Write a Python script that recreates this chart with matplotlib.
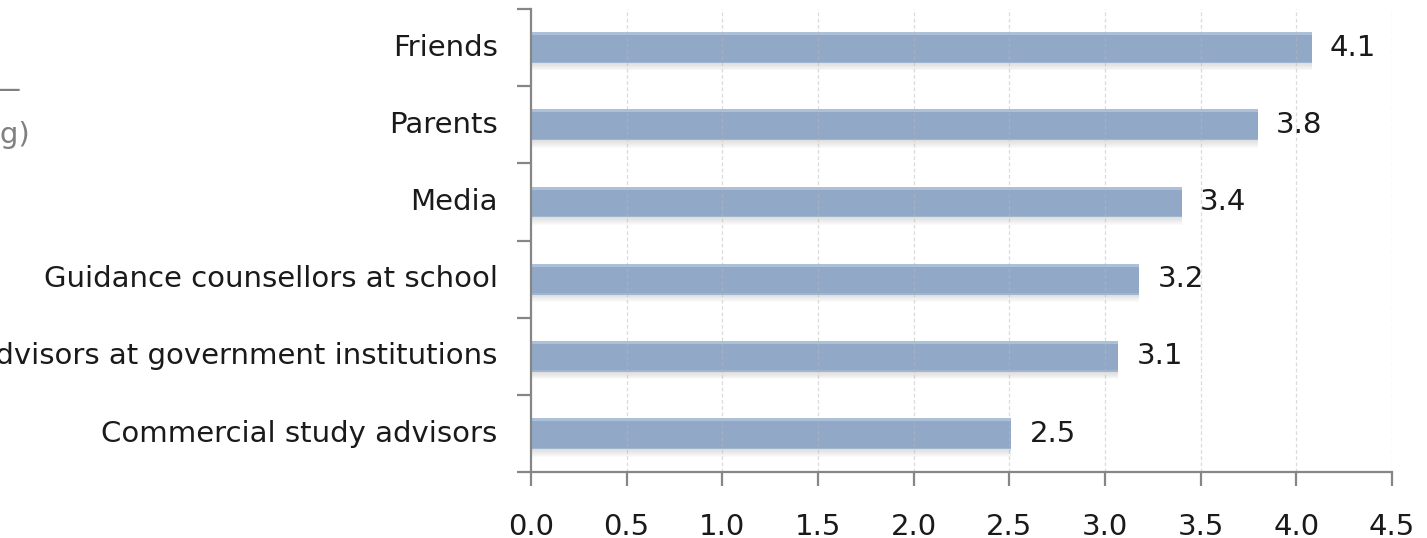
import matplotlib
matplotlib.use("Agg")
import matplotlib.pyplot as plt
import numpy as np

# Average rating per information source
sources = [
    "Friends",
    "Parents",
    "Media",
    "Guidance counsellors at school",
    "Study advisors at government institutions",
    "Commercial study advisors",
]
ratings = [4.08, 3.80, 3.40, 3.18, 3.07, 2.51]
x_ticks = [0.0, 0.5, 1.0, 1.5, 2.0, 2.5, 3.0, 3.5, 4.0, 4.5]

plt.rcParams["font.family"] = ["DejaVu Sans"]

W, H = 1427, 538
FS = 21
fig = plt.figure(figsize=(W / 100, H / 100), dpi=100)
ax = fig.add_axes([531 / W, (H - 472.3) / H, (1392 - 531) / W, (472.3 - 9) / H])

y = np.arange(len(sources))
bar_h = 0.40
bar_color = "#91a9c7"

# soft drop shadow under each bar
shadow_steps = 8
for k in range(shadow_steps):
    off = (k + 1) * 0.012
    ax.barh(y + bar_h / 2 + off - 0.006, ratings, height=0.012,
            color="#8c8c8c", alpha=0.28 * (1 - k / shadow_steps),
            linewidth=0, zorder=1)

ax.barh(y, ratings, height=bar_h, color=bar_color, linewidth=0, zorder=2)
# light sheen along top and bottom edges
ax.barh(y - bar_h / 2 + 0.02, ratings, height=0.04, color="#b3c6df",
        alpha=0.8, linewidth=0, zorder=3)
ax.barh(y + bar_h / 2 - 0.01, ratings, height=0.02, color="#a7bbd5",
        alpha=0.7, linewidth=0, zorder=3)

ax.set_xlim(0, 4.5)
ax.set_ylim(len(sources) - 0.5, -0.5)

# dashed vertical gridlines
for xv in x_ticks[1:]:
    ax.axvline(xv, color="#b8b8b8", linewidth=0.9, linestyle=(0, (3, 2)),
               alpha=0.5, zorder=4)

for sp in ["top", "right"]:
    ax.spines[sp].set_visible(False)
for sp in ["left", "bottom"]:
    ax.spines[sp].set_color("#868686")
    ax.spines[sp].set_linewidth(1.6)
    ax.spines[sp].set_zorder(5)

ax.set_xticks(x_ticks)
ax.set_xticklabels([f"{v:.1f}" for v in x_ticks], fontsize=FS, color="#1a1a1a")
ax.tick_params(axis="x", direction="out", length=10, width=1.6,
               color="#868686", pad=19)

# category ticks sit on boundaries between bars
ax.set_yticks(np.arange(-0.5, len(sources) + 0.5, 1.0))
ax.set_yticklabels([])
ax.tick_params(axis="y", direction="out", length=10, width=1.6, color="#868686")
for i, name in enumerate(sources):
    ax.text(-0.175, i, name, ha="right", va="center", fontsize=FS,
            color="#1a1a1a", clip_on=False)

for i, v in enumerate(ratings):
    ax.text(v + 0.095, i, f"{v:.1f}", ha="left", va="center", fontsize=FS,
            color="#1a1a1a", zorder=6)

# chart heading, mostly outside the left edge of the canvas
fig.text(21 / W, 1 - 90 / H, "—", ha="right", va="center", fontsize=FS,
         color="#808080")
fig.text(30 / W, 1 - 135 / H, "(average rating)", ha="right", va="center",
         fontsize=FS, color="#808080")

fig.savefig("out.png", dpi=100)
